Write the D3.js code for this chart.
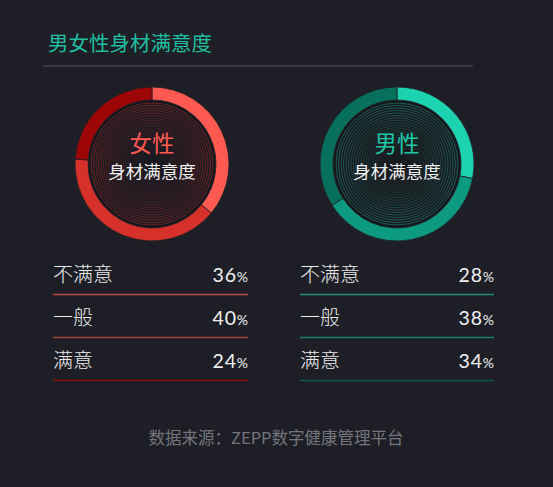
<!DOCTYPE html>
<html>
<head>
<meta charset="utf-8">
<script src="https://cdn.jsdelivr.net/npm/d3@7"></script>
<style>
  html, body { margin: 0; padding: 0; background: #1e1f26; }
  svg { display: block; }
</style>
</head>
<body>
<script>
// Data
const categories = ["不满意", "一般", "满意"];
const femaleValues = [36, 40, 24];
const maleValues = [28, 38, 34];
const groupNames = ["女性", "男性"];
const centerLabel = "身材满意度";
const title = "男女性身材满意度";
const source = "数据来源：ZEPP数字健康管理平台";

const width = 553, height = 487;
const cjk = "'Noto Sans CJK SC', 'Noto Sans', sans-serif";
const num = "Lato, 'Open Sans', sans-serif";

const palettes = [
  {accent: "#ff5a52", ring: ["#ff5a52", "#d6302a", "#9c0606"], lines: ["#b94845", "#a8403c", "#8a0a0a"], grid: "#c0282a"},
  {accent: "#1cc7a6", ring: ["#1dd2b0", "#0c9a80", "#07705c"], lines: ["#1e8e76", "#1a7f6a", "#0a5a48"], grid: "#18a088"}
];

const svg = d3.select("body").append("svg")
  .attr("width", width)
  .attr("height", height);

svg.append("rect").attr("width", width).attr("height", height).attr("fill", "#1e1f26");

// Title + rule
svg.append("text")
  .attr("x", 48).attr("y", 51)
  .attr("fill", "#1ebfa0")
  .attr("font-family", cjk).attr("font-size", 20.5)
  .text(title);
svg.append("line")
  .attr("x1", 43).attr("x2", 473).attr("y1", 66).attr("y2", 66)
  .attr("stroke", "#393a41").attr("stroke-width", 2);

// Panels
const panels = [
  {values: femaleValues, cx: 152, left: 53, right: 248},
  {values: maleValues, cx: 397, left: 300, right: 494}
];

const pie = d3.pie().sort(null).value(d => d);
const arc = d3.arc().innerRadius(64).outerRadius(77);
const ringR = d3.scaleLinear().domain([0, 1]).range([14, 61]);
const gridOpacity = d3.scaleLinear().domain([0, 1]).range([0.1, 0.7]);

// row baselines
const rowY = d3.scalePoint().domain(categories).range([282, 368]);

panels.forEach((p, i) => {
  const pal = palettes[i];
  const g = svg.append("g").attr("transform", `translate(${p.cx},164)`);

  // inner disk with concentric rings
  g.append("circle").attr("r", 62).attr("fill", "#1a1b21");
  d3.range(0, 1.0001, 1 / 19).forEach(t => {
    g.append("circle")
      .attr("r", ringR(t))
      .attr("fill", "none")
      .attr("stroke", pal.grid)
      .attr("stroke-opacity", gridOpacity(t))
      .attr("stroke-width", 0.7);
  });
  g.append("circle").attr("r", 62.5).attr("fill", "none")
    .attr("stroke", "#15161b").attr("stroke-width", 1.5);

  // donut
  g.selectAll("path.seg")
    .data(pie(p.values))
    .enter().append("path")
    .attr("class", "seg")
    .attr("d", arc)
    .attr("fill", (d, j) => pal.ring[j])
    .attr("stroke", "#1e1f26")
    .attr("stroke-width", 0.8);

  g.append("text")
    .attr("y", -12)
    .attr("text-anchor", "middle")
    .attr("fill", pal.accent)
    .attr("font-family", cjk).attr("font-size", 22.5)
    .text(groupNames[i]);
  g.append("text")
    .attr("y", 14)
    .attr("text-anchor", "middle")
    .attr("fill", "#f2f2f2")
    .attr("font-family", cjk).attr("font-size", 17.5)
    .text(centerLabel);

  // table rows
  const rows = svg.append("g").selectAll("g")
    .data(categories.map((c, j) => ({c, v: p.values[j], j})))
    .enter().append("g")
    .attr("transform", d => `translate(0,${rowY(d.c)})`);

  rows.append("text")
    .attr("x", p.left)
    .attr("fill", "#ececec")
    .attr("font-family", cjk).attr("font-size", 20).attr("font-weight", 300)
    .text(d => d.c);

  const pct = rows.append("text")
    .attr("x", p.right)
    .attr("text-anchor", "end")
    .attr("fill", "#f0f0f0")
    .attr("font-family", num);
  pct.append("tspan").attr("font-size", 19.5).attr("letter-spacing", 0.8).text(d => d.v);
  pct.append("tspan").attr("font-size", 14).text("%");

  rows.append("line")
    .attr("x1", p.left).attr("x2", p.right)
    .attr("y1", 12.5).attr("y2", 12.5)
    .attr("stroke", d => pal.lines[d.j])
    .attr("stroke-width", 1.6);
});

// source
svg.append("text")
  .attr("x", 276).attr("y", 444)
  .attr("text-anchor", "middle")
  .attr("fill", "#74757c")
  .attr("font-family", cjk).attr("font-size", 16.5)
  .text(source);
</script>
</body>
</html>
